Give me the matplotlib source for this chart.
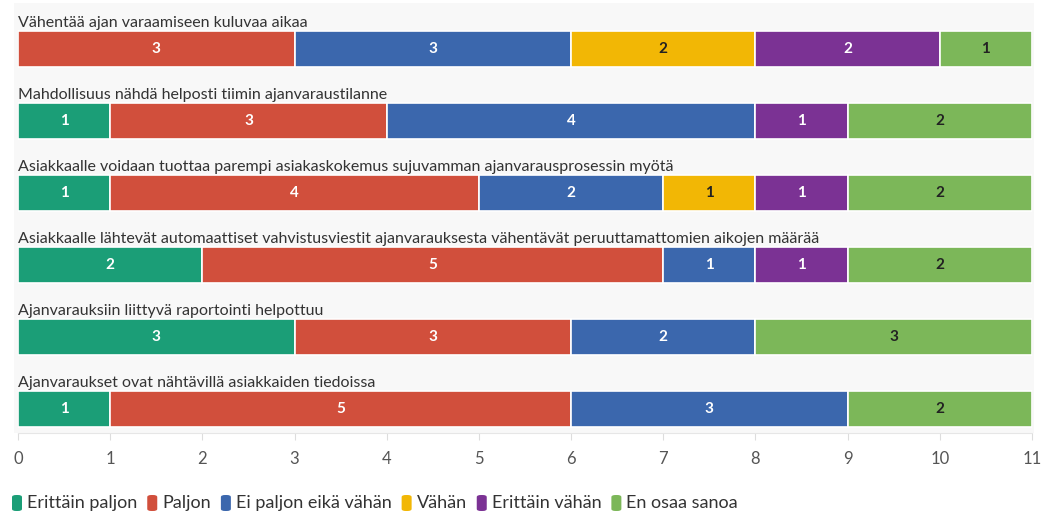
import matplotlib.pyplot as plt
from matplotlib.patches import FancyBboxPatch
import numpy as np

plt.rcParams['font.family'] = ['Lato', 'DejaVu Sans']

questions = [
    "Vähentää ajan varaamiseen kuluvaa aikaa",
    "Mahdollisuus nähdä helposti tiimin ajanvaraustilanne",
    "Asiakkaalle voidaan tuottaa parempi asiakaskokemus sujuvamman ajanvarausprosessin myötä",
    "Asiakkaalle lähtevät automaattiset vahvistusviestit ajanvarauksesta vähentävät peruuttamattomien aikojen määrää",
    "Ajanvarauksiin liittyvä raportointi helpottuu",
    "Ajanvaraukset ovat nähtävillä asiakkaiden tiedoissa",
]
answers = ["Erittäin paljon", "Paljon", "Ei paljon eikä vähän", "Vähän", "Erittäin vähän", "En osaa sanoa"]
colors = ["#1b9e77", "#d14f3c", "#3b67ad", "#f2b705", "#7b3294", "#7cb759"]
text_colors = ["white", "white", "white", "#222222", "white", "#222222"]

erittain_paljon = [0, 1, 1, 2, 3, 1]
paljon = [3, 3, 4, 5, 3, 5]
ei_paljon = [3, 4, 2, 1, 2, 3]
vahan = [2, 0, 1, 0, 0, 0]
erittain_vahan = [2, 1, 1, 1, 0, 0]
en_osaa = [1, 2, 2, 2, 3, 2]
series = [erittain_paljon, paljon, ei_paljon, vahan, erittain_vahan, en_osaa]

W, H = 1046, 513
fig = plt.figure(figsize=(W / 100, H / 100), dpi=100)
fig.patch.set_facecolor("white")

# light background band behind the bars
bg = fig.add_axes([14 / W, 1 - 433 / H, (1034 - 14) / W, 430 / H], zorder=-1)
bg.set_axis_off()
bg.add_patch(plt.Rectangle((0, 0), 1, 1, transform=bg.transAxes, facecolor="#f8f8f8", edgecolor="none"))

# axes spanning pixels x 18..1032, y 0..433
ax = fig.add_axes([18 / W, 1 - 433 / H, (1032 - 18) / W, 433 / H])
ax.set_facecolor("none")

rows = np.arange(len(questions))
left = np.zeros(len(questions))
for vals, col, tcol in zip(series, colors, text_colors):
    vals = np.array(vals, dtype=float)
    ax.barh(rows, vals, left=left, height=0.5, color=col, edgecolor="white", linewidth=1.2)
    for r, v, l in zip(rows, vals, left):
        if v > 0:
            ax.text(l + v / 2, r, str(int(v)), ha="center", va="center",
                    color=tcol, fontsize=11, fontweight="bold")
    left += vals

for r, q in zip(rows, questions):
    ax.text(0, r - 0.27, q, ha="left", va="bottom", fontsize=11.5, color="#333333")

# pixel layout: row centre 49 px from top, 72 px per row
ax.set_ylim((433 - 49) / 72, -49 / 72)
ax.set_xlim(0, 11)
ax.set_xticks(range(0, 12))
ax.tick_params(axis="x", length=5, color="#dddddd", labelsize=12, labelcolor="#555555", pad=8)
ax.set_yticks([])
for s in ["top", "right", "left"]:
    ax.spines[s].set_visible(False)
ax.spines["bottom"].set_color("#e6e6e6")

# legend
x = 12
y = 503
for lab, col in zip(answers, colors):
    fig.patches.append(FancyBboxPatch((x / W, (H - y - 8) / H), 10 / W, 16 / H,
                                      boxstyle="round,pad=0,rounding_size=0.004",
                                      transform=fig.transFigure, facecolor=col,
                                      edgecolor="none"))
    t = fig.text((x + 15) / W, 1 - y / H, lab, ha="left", va="center",
                 fontsize=13, color="#333333")
    fig.canvas.draw()
    bb = t.get_window_extent()
    x = bb.x1 + 10

fig.savefig("out.png", dpi=100)
